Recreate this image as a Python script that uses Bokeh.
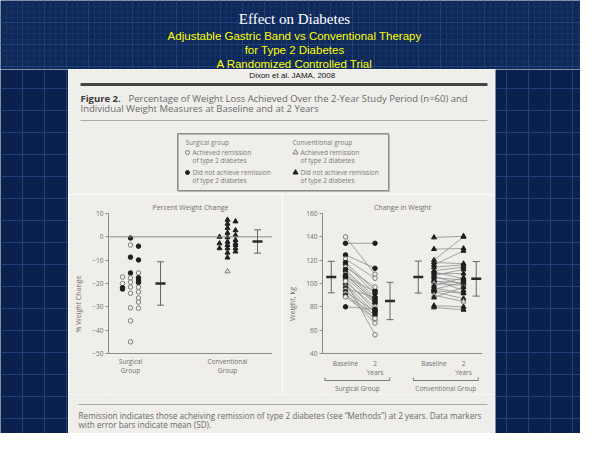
from bokeh.plotting import figure
from bokeh.layouts import row, column
from bokeh.models import (Range1d, SingleIntervalTicker, FixedTicker, Span, ColumnDataSource,
                          Whisker, TeeHead, Grid)
from bokeh.embed import file_html
from bokeh.resources import INLINE
from bokeh.core.properties import value

# ---------------- texts ----------------
slide_title = "Effect on Diabetes"
slide_subtitle = ["Adjustable Gastric Band vs Conventional Therapy",
                  "for Type 2 Diabetes",
                  "A Randomized Controlled Trial"]
citation = "Dixon et al.  JAMA,  2008"
caption_bold = "Figure 2."
caption_lines = ["Percentage of Weight Loss Achieved Over the 2-Year Study Period (n=60) and",
                 "Individual Weight Measures at Baseline and at 2 Years"]
footnote_lines = ["Remission indicates those acheiving remission of type 2 diabetes (see \u201cMethods\u201d) at 2 years. Data markers",
                  "with error bars indicate mean (SD)."]
legend_surg = ["Surgical group", "Achieved remission", "of type 2 diabetes",
               "Did not achieve remission", "of type 2 diabetes"]
legend_conv = ["Conventional group", "Achieved remission", "of type 2 diabetes",
               "Did not achieve remission", "of type 2 diabetes"]

# ---------------- panel A: percent weight change ----------------
pct_title = "Percent Weight Change"
pct_ylabel = "% Weight Change"
pct_groups = [["Surgical", "Group"], ["Conventional", "Group"]]
pct_ticks = [10, 0, -10, -20, -30, -40, -50]
surg_pct = [-17.2, -20.0, -21.8, -22.4,
            -0.5, -3.5, -8.7, -15.5, -17.6, -19.4, -21.5, -24.2, -30.4, -36.0, -45.0,
            -4.0, -9.9, -15.5, -17.5, -18.5, -19.6, -21.6, -23.6, -26.2, -28.0, -30.6]
surg_lane = [-1, -1, -1, -1,
             0, 0, 0, 0, 0, 0, 0, 0, 0, 0, 0,
             1, 1, 1, 1, 1, 1, 1, 1, 1, 1, 1]
surg_remit = [1, 1, 0, 0,
              0, 1, 0, 0, 1, 1, 1, 1, 1, 1, 1,
              0, 0, 1, 0, 0, 0, 1, 1, 1, 1, 1]
conv_pct = [0.0, -2.8, -4.9,
            7.3, 5.6, 3.8, 1.7, -0.2, -2.1, -3.5, -4.9, -6.8, -8.9, -14.8,
            6.6, 2.8, 0.7, -1.4, -2.8, -3.5, -4.9, -6.3]
conv_lane = [-1, -1, -1,
             0, 0, 0, 0, 0, 0, 0, 0, 0, 0, 0,
             1, 1, 1, 1, 1, 1, 1, 1]
conv_remit = [0, 0, 0,
              0, 0, 0, 0, 0, 0, 0, 0, 0, 0, 1,
              0, 0, 0, 0, 0, 0, 0, 0]
pct_mean = [-20.0, -2.0]
pct_sd = [9.3, 5.0]

# ---------------- panel B: change in weight ----------------
w_title = "Change in Weight"
w_ylabel = "Weight, kg"
w_ticks = [40, 60, 80, 100, 120, 140, 160]
time_labels = [["Baseline"], ["2", "Years"]]
group_names = ["Surgical Group", "Conventional Group"]
surg_base = [140, 134.5, 124.5, 121, 118, 116, 114, 112, 110.5, 108, 106, 105, 103,
             101.5, 99, 97, 96, 94.5, 93, 91.5, 90, 88.5, 80, 102, 107]
surg_2yr = [108, 134.5, 113, 104.5, 94, 91.5, 97, 88, 86, 84, 93, 83, 77,
            80, 75, 72, 88, 69, 76, 66, 73, 70, 78, 56, 85]
surg_w_remit = [1, 0, 0, 1, 0, 0, 1, 0, 0, 1, 0, 0, 0,
                1, 0, 1, 0, 1, 0, 1, 0, 1, 0, 1, 0]
conv_base = [139.5, 129.5, 120, 118, 116, 114, 111, 110, 108.5, 106, 105, 103,
             102, 100, 98, 96, 95, 94, 93, 90, 88, 81, 79.5, 107]
conv_2yr = [140.5, 130, 140, 117, 128, 116, 114, 104, 108.5, 99, 103, 94,
            100.5, 98.5, 105, 92, 101, 91.5, 87, 84.5, 97, 80, 77.5, 112]
conv_w_remit = [0, 0, 0, 0, 0, 0, 0, 0, 0, 1, 0, 0,
                0, 1, 0, 0, 0, 0, 0, 1, 0, 0, 0, 0]
w_mean = [105.5, 85.0, 105.5, 104.0]
w_sd = [13.5, 16.0, 13.7, 14.8]

# ---------------- styles ----------------
PAPER = "#efeeea"
INK = "#1f1f1f"
OPEN = "#7c7c7c"
AXIS = "#8a8a8a"
TXT = "#6f6f6f"
NAVY = "#0a214e"
NAVY_TOP = "#0e2858"
NAVY_LINE = "#21417a"
NAVY_MINOR = "#163268"
FONT = "Open Sans"


def blank(w, h, xr, yr, bg):
    p = figure(width=w, height=h, x_range=xr, y_range=yr, x_axis_type=None, y_axis_type=None,
               min_border=0, output_backend="svg", toolbar_location=None)
    p.outline_line_color = None
    p.background_fill_color = bg
    p.border_fill_color = bg
    return p


def navy(w, h, x0, y0, plaid):
    p = blank(w, h, Range1d(x0, x0 + w), Range1d(y0 + h, y0), NAVY_TOP if plaid else NAVY)
    for dim in (0, 1):
        g = Grid(dimension=dim,
                 ticker=SingleIntervalTicker(interval=22, num_minor_ticks=4 if plaid else 0),
                 grid_line_color=NAVY_LINE, grid_line_width=1,
                 minor_grid_line_color=NAVY_MINOR if plaid else None)
        p.add_layout(g)
    return p


# ---------------- header ----------------
HW, HH = 580, 69
header = navy(HW, HH, 0, 0, True)
header.text(x=[294], y=[18], text=[slide_title], text_font=value("Liberation Serif"),
            text_font_size="15px", text_color="#ffffff", text_align="center", text_baseline="middle")
header.text(x=[294, 294, 294], y=[35, 49, 63], text=slide_subtitle,
            text_font=value("Liberation Sans"), text_font_size="11.5px", text_color="#ffff00",
            text_align="center", text_baseline="middle")

BODY_H = 364
left_band = navy(68, BODY_H, 0, HH, False)
right_band = navy(85, BODY_H, 495, HH, False)

# ---------------- paper top: citation, caption, legend ----------------
PW = 427
top = blank(PW, 125, Range1d(0, PW), Range1d(125, 0), PAPER)
top.text(x=[226], y=[6], text=[citation], text_font=value("Liberation Sans"),
         text_font_size="8px", text_color="#111111", text_align="center", text_baseline="middle")
top.segment(x0=[12], y0=[15], x1=[419], y1=[15], line_color="#454545", line_width=3)
top.text(x=[12], y=[29], text=[caption_bold], text_font=value(FONT), text_font_size="9.5px",
         text_font_style="bold", text_color="#3a3a3a", text_baseline="middle")
top.text(x=[60, 12], y=[29, 39], text=caption_lines, text_font=value(FONT), text_font_size="9.5px",
         text_color="#6a6a6a", text_baseline="middle")
top.segment(x0=[12], y0=[51], x1=[419], y1=[51], line_color="#a8a8a8", line_width=1)
# legend box
top.quad(left=[110], right=[321], top=[65], bottom=[122], fill_color=None, line_color="#b5b5b5", line_width=1)
top.quad(left=[109], right=[320], top=[64], bottom=[121], fill_color=None, line_color="#8c8c8c", line_width=1)
top.text(x=[117, 124, 124, 124, 124], y=[73, 83, 91, 103, 111], text=legend_surg,
         text_font=value(FONT), text_font_size="6.5px", text_color="#7a7a7a", text_baseline="middle")
top.text(x=[224, 232, 232, 232, 232], y=[73, 83, 91, 103, 111], text=legend_conv,
         text_font=value(FONT), text_font_size="6.5px", text_color="#7a7a7a", text_baseline="middle")
top.scatter(x=[119, 119], y=[83, 103], marker="circle", size=4,
            fill_color=[PAPER, INK], line_color=[OPEN, INK])
top.scatter(x=[227, 227], y=[83, 103], marker="triangle", size=5,
            fill_color=[PAPER, INK], line_color=[OPEN, INK])


def style_panel(p, title, ylabel, ticks, bounds):
    p.title.text = title
    p.title.align = "center"
    p.title.text_font = FONT
    p.title.text_font_size = "7px"
    p.title.text_font_style = "normal"
    p.title.text_color = TXT
    p.title.standoff = 4
    p.outline_line_color = None
    p.background_fill_color = PAPER
    p.border_fill_color = PAPER
    p.grid.visible = False
    ax = p.yaxis[0]
    ax.ticker = FixedTicker(ticks=ticks)
    ax.bounds = bounds
    ax.axis_line_color = AXIS
    ax.major_tick_line_color = AXIS
    ax.major_tick_out = 3
    ax.major_tick_in = 0
    ax.minor_tick_line_color = None
    ax.major_label_text_font = FONT
    ax.major_label_text_font_size = "6.5px"
    ax.major_label_text_color = TXT
    ax.major_label_standoff = 2
    ax.axis_label = ylabel
    ax.axis_label_text_font = FONT
    ax.axis_label_text_font_size = "7px"
    ax.axis_label_text_font_style = "normal"
    ax.axis_label_text_color = TXT
    ax.axis_label_standoff = 6


PANEL_H = 200
FRAME_TOP = 19
AX_PX = 140       # pixels between top tick and bottom tick
BELOW_PX = PANEL_H - FRAME_TOP - AX_PX

# ---------------- panel A ----------------
X_SURG, X_CONV = 1.0, 3.0
PPU_A = 48.5
LANE = 8 / PPU_A
BAR_OFF = 30 / PPU_A
ya_top, ya_bot = max(pct_ticks), min(pct_ticks)
upp_a = (ya_top - ya_bot) / AX_PX
pa = figure(width=214, height=PANEL_H, x_axis_type=None,
            x_range=Range1d(X_SURG - 22 / PPU_A, X_CONV + 45 / PPU_A),
            y_range=Range1d(ya_bot - BELOW_PX * upp_a, ya_top),
            min_border_left=40, min_border_right=10, min_border_top=FRAME_TOP, min_border_bottom=0,
            output_backend="svg", toolbar_location=None)
style_panel(pa, pct_title, pct_ylabel, pct_ticks, (ya_bot, ya_top))
pa.add_layout(Span(location=0, dimension="width", line_color=AXIS, line_width=1))
pa.add_layout(Span(location=ya_bot, dimension="width", line_color=AXIS, line_width=1))

sa = ColumnDataSource(dict(
    x=[X_SURG + l * LANE for l in surg_lane], y=surg_pct,
    fc=[PAPER if r else INK for r in surg_remit], lc=[OPEN if r else INK for r in surg_remit]))
pa.scatter("x", "y", source=sa, marker="circle", size=4.5, fill_color="fc", line_color="lc")
ca = ColumnDataSource(dict(
    x=[X_CONV + l * LANE for l in conv_lane], y=conv_pct,
    fc=[PAPER if r else INK for r in conv_remit], lc=[OPEN if r else INK for r in conv_remit]))
pa.scatter("x", "y", source=ca, marker="triangle", size=5, fill_color="fc", line_color="lc")

ea = ColumnDataSource(dict(x=[X_SURG + BAR_OFF, X_CONV + BAR_OFF], m=pct_mean,
                           up=[m + s for m, s in zip(pct_mean, pct_sd)],
                           lo=[m - s for m, s in zip(pct_mean, pct_sd)]))
pa.add_layout(Whisker(source=ea, base="x", upper="up", lower="lo", line_color="#666666",
                      upper_head=TeeHead(size=7, line_color="#666666"),
                      lower_head=TeeHead(size=7, line_color="#666666")))
pa.scatter("x", "m", source=ea, marker="dash", size=10, line_width=2.5, line_color="#2a2a2a")
for gx, lines in zip([X_SURG, X_CONV], pct_groups):
    pa.text(x=[gx] * len(lines),
            y=[ya_bot - (8 + 9 * i) * upp_a for i in range(len(lines))], text=lines,
            text_font=value(FONT), text_font_size="6.5px", text_color=TXT,
            text_align="center", text_baseline="middle")

# ---------------- panel B ----------------
XB = [1.0, 2.0, 4.0, 5.0]
PPU_B = 29.5
BAR_B = 15 / PPU_B
yb_top, yb_bot = max(w_ticks), min(w_ticks)
upp_b = (yb_top - yb_bot) / AX_PX
pb = figure(width=213, height=PANEL_H, x_axis_type=None,
            x_range=Range1d(XB[0] - 23 / PPU_B, XB[3] + 19 / PPU_B),
            y_range=Range1d(yb_bot - BELOW_PX * upp_b, yb_top),
            min_border_left=40, min_border_right=13, min_border_top=FRAME_TOP, min_border_bottom=0,
            output_backend="svg", toolbar_location=None)
style_panel(pb, w_title, w_ylabel, w_ticks, (yb_bot, yb_top))
pb.add_layout(Span(location=yb_bot, dimension="width", line_color=AXIS, line_width=1))

for (xb, x2, base, two, remit, mk) in [(XB[0], XB[1], surg_base, surg_2yr, surg_w_remit, "circle"),
                                      (XB[2], XB[3], conv_base, conv_2yr, conv_w_remit, "triangle")]:
    pb.segment(x0=[xb] * len(base), y0=base, x1=[x2] * len(two), y1=two,
               line_color="#8f8f8f", line_width=0.8)
    src = ColumnDataSource(dict(
        x=[xb] * len(base) + [x2] * len(two), y=list(base) + list(two),
        fc=[PAPER if r else INK for r in remit] * 2, lc=[OPEN if r else INK for r in remit] * 2))
    pb.scatter("x", "y", source=src, marker=mk, size=4.5 if mk == "circle" else 5,
               fill_color="fc", line_color="lc")

eb = ColumnDataSource(dict(x=[XB[0] - BAR_B * 0.95, XB[1] + BAR_B, XB[2] - BAR_B * 1.05, XB[3] + BAR_B * 0.85],
                           m=w_mean,
                           up=[m + s for m, s in zip(w_mean, w_sd)],
                           lo=[m - s for m, s in zip(w_mean, w_sd)]))
pb.add_layout(Whisker(source=eb, base="x", upper="up", lower="lo", line_color="#666666",
                      upper_head=TeeHead(size=7, line_color="#666666"),
                      lower_head=TeeHead(size=7, line_color="#666666")))
pb.scatter("x", "m", source=eb, marker="dash", size=10, line_width=2.5, line_color="#2a2a2a")

for gi in range(2):
    for ti in range(2):
        lines = time_labels[ti]
        pb.text(x=[XB[2 * gi + ti]] * len(lines),
                y=[yb_bot - (10 + 9 * i) * upp_b for i in range(len(lines))], text=lines,
                text_font=value(FONT), text_font_size="6.5px", text_color=TXT,
                text_align="center", text_baseline="middle")
    x_lo, x_hi = XB[2 * gi] - 0.7, XB[2 * gi + 1] + 0.5
    y_br = yb_bot - 27 * upp_b
    pb.segment(x0=[x_lo, x_lo, x_hi], y0=[y_br, y_br, y_br], x1=[x_hi, x_lo, x_hi],
               y1=[y_br, y_br + 3 * upp_b, y_br + 3 * upp_b], line_color="#777777", line_width=1)
    pb.text(x=[(x_lo + x_hi) / 2], y=[yb_bot - 35 * upp_b], text=[group_names[gi]],
            text_font=value(FONT), text_font_size="6.5px", text_color=TXT,
            text_align="center", text_baseline="middle")

# ---------------- footer ----------------
foot = blank(PW, 39, Range1d(0, PW), Range1d(39, 0), PAPER)
foot.segment(x0=[10], y0=[10], x1=[419], y1=[10], line_color="#a8a8a8", line_width=1)
foot.text(x=[10, 10], y=[21, 30], text=footnote_lines, text_font=value(FONT),
          text_font_size="8.2px", text_color="#6a6a6a", text_baseline="middle")

paper = column(top, row(pa, pb), foot)
layout = column(header, row(left_band, paper, right_band))

open("out.html", "w").write(file_html(layout, INLINE))
